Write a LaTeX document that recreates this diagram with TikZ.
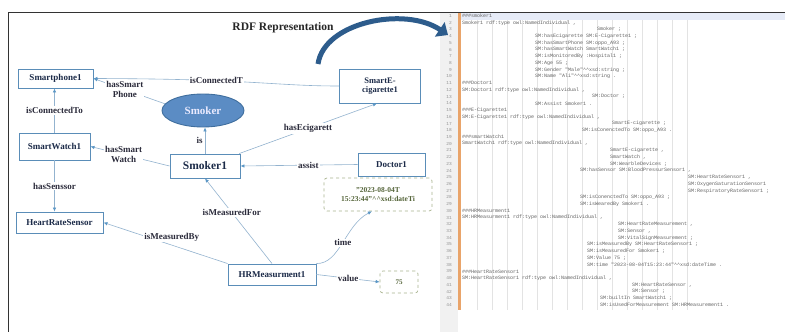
\documentclass[tikz,border=0pt]{standalone}
\usepackage{fontspec}
\setmainfont{Liberation Serif}
\newfontfamily\codefont{Liberation Mono}
\usetikzlibrary{arrows.meta, shapes.geometric}

\definecolor{boxc}{HTML}{5A8DB8}
\definecolor{boxtxt}{HTML}{1B2A48}
\definecolor{edgec}{HTML}{93B3CF}
\definecolor{arrc}{HTML}{5B97C6}
\definecolor{lblc}{HTML}{2B2B3B}
\definecolor{smkfill}{HTML}{5B8CC4}
\definecolor{smkline}{HTML}{3F6E9E}
\definecolor{litc}{HTML}{A9B58F}
\definecolor{littxt}{HTML}{55653A}
\definecolor{bigarr}{HTML}{2D5C8C}
\definecolor{codec}{HTML}{626262}
\definecolor{gutter}{HTML}{F1F1F1}
\definecolor{barc}{HTML}{E9A46A}
\definecolor{hilite}{HTML}{E6EBF7}
\definecolor{guide}{HTML}{E3E3E3}

\tikzset{
  box/.style={draw=boxc, line width=0.9pt, fill=white, text=boxtxt, inner sep=1pt,
    font=\bfseries\fontsize{9}{10}\selectfont, align=center},
  literal/.style={draw=litc, dashed, rounded corners=3pt, line width=0.7pt, fill=white,
    text=littxt, inner sep=1pt, font=\bfseries\fontsize{7.5}{8.5}\selectfont, align=center},
  lbl/.style={fill=white, inner sep=1pt, text=lblc, align=center,
    font=\bfseries\fontsize{9}{10}\selectfont},
  rel/.style={draw=edgec, line width=0.6pt, -{Latex[length=4pt,width=3.5pt,color=arrc]}},
  codetxt/.style={anchor=west, inner sep=0pt, text=codec, font=\codefont\fontsize{5}{5}\selectfont},
  lnum/.style={anchor=east, inner sep=0pt, text=codec!70, font=\codefont\fontsize{4.5}{5}\selectfont}
}

\newcommand{\codeln}[3]{\node[codetxt] (c#1) at (#2,{16+(#1-1)*6.72}) {#3};}
\newcommand{\dcaret}{\textasciicircum\textasciicircum}

\begin{document}
\begin{tikzpicture}[x=1pt, y=-1pt]
  \useasboundingbox (0,0) rectangle (785,332);
  \fill[white] (0,0) rectangle (785,332);

  % code editor panel
  \fill[gutter] (440,12.5) rectangle (458,332);
  \fill[hilite] (461,12.5) rectangle (785,19.5);
  \foreach \gx in {477,492,...,690}
    \draw[guide, line width=0.4pt] (\gx,20) -- (\gx,310);
  \fill[barc] (458,12.5) rectangle (461,310);
  \foreach \n in {1,...,44}
    \node[lnum] (ln\n) at (452,{16+(\n-1)*6.72}) {\n};

  \codeln{1}{462}{\#\#\#smoker1}
  \codeln{2}{462}{Smoker1 rdf:type owl:NamedIndividual ,}
  \codeln{3}{597}{Smoker ;}
  \codeln{4}{535}{SM:hasEcigarette SM:E-Cigarette1 ;}
  \codeln{5}{535}{SM:hasSmartPhone SM:oppo\_A93 ;}
  \codeln{6}{535}{SM:hasSmartWatch SmartWatch1 ;}
  \codeln{7}{535}{SM:isMonitoredBy :Hospital1 ;}
  \codeln{8}{535}{SM:Age 55 ;}
  \codeln{9}{535}{SM:Gender "Male"\dcaret xsd:string ;}
  \codeln{10}{535}{SM:Name "Ali"\dcaret xsd:string .}
  \codeln{11}{462}{\#\#\#Doctor1}
  \codeln{12}{462}{SM:Doctor1 rdf:type owl:NamedIndividual ,}
  \codeln{13}{592}{SM:Doctor ;}
  \codeln{14}{535}{SM:Assist Smoker1 .}
  \codeln{15}{462}{\#\#\#E-Cigarette1}
  \codeln{16}{462}{SM:E-Cigarette1 rdf:type owl:NamedIndividual ,}
  \codeln{17}{612}{SmartE-cigarette ;}
  \codeln{18}{582}{SM:isConenctedTo SM:oppo\_A93 .}
  \codeln{19}{462}{\#\#\#smartWatch1}
  \codeln{20}{462}{SmartWatch1 rdf:type owl:NamedIndividual ,}
  \codeln{21}{610}{SmartE-cigarette ,}
  \codeln{22}{610}{SmartWatch ,}
  \codeln{23}{610}{SM:WearbleDevices ;}
  \codeln{24}{580}{SM:hasSensor SM:BloodPressurSensor1 ,}
  \codeln{25}{688}{SM:HeartRateSensor1 ,}
  \codeln{26}{688}{SM:OxygenSaturationSensor1}
  \codeln{27}{688}{SM:RespiratoryRateSensor1 ;}
  \codeln{28}{580}{SM:isConenctedTo SM:oppo\_A93 ;}
  \codeln{29}{580}{SM:isWearedBy Smoker1 .}
  \codeln{30}{462}{\#\#\#HRMeasurment1}
  \codeln{31}{462}{SM:HRMeasurment1 rdf:type owl:NamedIndividual ,}
  \codeln{32}{618}{SM:HeartRateMeasurement ,}
  \codeln{33}{618}{SM:Sensor ,}
  \codeln{34}{618}{SM:VitalSignMeasurement ;}
  \codeln{35}{587}{SM:isMeasuredBy SM:HeartRateSensor1 ;}
  \codeln{36}{587}{SM:isMeasuredFor Smoker1 ;}
  \codeln{37}{587}{SM:Value 75 ;}
  \codeln{38}{587}{SM:time "2023-08-04T15:23:44"\dcaret xsd:dateTime .}
  \codeln{39}{462}{\#\#\#HeartRateSensor1}
  \codeln{40}{462}{SM:HeartRateSensor1 rdf:type owl:NamedIndividual ,}
  \codeln{41}{632}{SM:HeartRateSensor ,}
  \codeln{42}{632}{SM:Sensor ;}
  \codeln{43}{600}{SM:builtIn SmartWatch1 ;}
  \codeln{44}{600}{SM:isUsedForMeasurement SM:HRMeasurement1 .}

  % frame of the graph panel
  \draw[black!80, line width=1pt] (8,332) -- (8,12) -- (785,12);

  \node (title) at (283,28) [text=black!85, font=\bfseries\fontsize{11.5}{12}\selectfont] {RDF Representation};
  \coordinate (arrS) at (318,64);
  \coordinate (arrE) at (448,35);
  \draw[bigarr, line width=5pt, -{Triangle[length=10pt,width=17pt]}]
    (arrS) .. controls (324,22) and (405,6) .. (arrE);

  % nodes
  \node[box, minimum width=75pt, minimum height=19pt] (phone) at (55.5,78.5) {Smartphone1};
  \node[ellipse, draw=smkline, line width=0.9pt, fill=smkfill, text=white!92!blue,
        minimum width=82pt, minimum height=33pt, inner sep=0pt,
        font=\bfseries\fontsize{11}{12}\selectfont] (smk) at (203,110.5) {Smoker};
  \node[box, minimum width=81pt, minimum height=34pt, font=\bfseries\fontsize{8.5}{9.5}\selectfont]
        (ecig) at (380,86) {SmartE-\\cigarette1};
  \node[box, minimum width=71pt, minimum height=27pt] (watch) at (54.5,146.5) {SmartWatch1};
  \node[box, minimum width=70pt, minimum height=24pt, font=\bfseries\fontsize{11.5}{12}\selectfont]
        (sm1) at (205,166) {Smoker1};
  \node[box, minimum width=67pt, minimum height=23pt] (doc) at (391.5,164.5) {Doctor1};
  \node[literal, minimum width=108pt, minimum height=33pt] (date) at (378,194.5)
        {"2023-08-04T\\15:23:44"\dcaret xsd:dateTi};
  \node[box, minimum width=87pt, minimum height=21pt] (hrs) at (59.5,222.5) {HeartRateSensor};
  \node[box, minimum width=88pt, minimum height=21pt] (hrm) at (272,274.5) {HRMeasurment1};
  \node[literal, minimum width=38pt, minimum height=22pt, font=\bfseries\fontsize{7}{8}\selectfont]
        (val) at (399,282) {75};

  % relations
  \draw[rel] (ecig.west) .. controls (275,86) and (255,79) .. node[lbl, pos=0.66] {isConnectedT} (phone.east);
  \draw[rel] (smk.170) -- node[lbl, pos=0.56] {hasSmart\\Phone} (phone.east);
  \draw[rel] (watch.north) -- node[lbl] {isConnectedTo} (watch.north |- phone.south);
  \draw[rel] (sm1.west) -- node[lbl, pos=0.58] {hasSmart\\Watch} (watch.east);
  \draw[rel] (sm1.north) -- node[lbl, left, xshift=-1pt] {is} (sm1.north |- smk.south);
  \draw[rel] (sm1.20) -- node[lbl, pos=0.5] {hasEcigarett} (ecig.260);
  \draw[rel] (doc.west) -- node[lbl, pos=0.42] {assist} (sm1.east);
  \draw[rel] (watch.south) -- node[lbl] {hasSenssor} (watch.south |- hrs.north);
  \draw[rel] (hrm.north west) -- node[lbl, pos=0.45, yshift=8pt] {isMeasuredBy} (hrs.east);
  \draw[rel] (hrm.north) -- node[lbl, pos=0.6] {isMeasuredFor} (sm1.south);
  \draw[rel] (hrm.north east) .. controls (340,264) and (345,225) .. node[lbl, pos=0.5] {time} (date.250);
  \draw[rel] (hrm.east) -- node[lbl] {value} (val.west);
\end{tikzpicture}
\end{document}
